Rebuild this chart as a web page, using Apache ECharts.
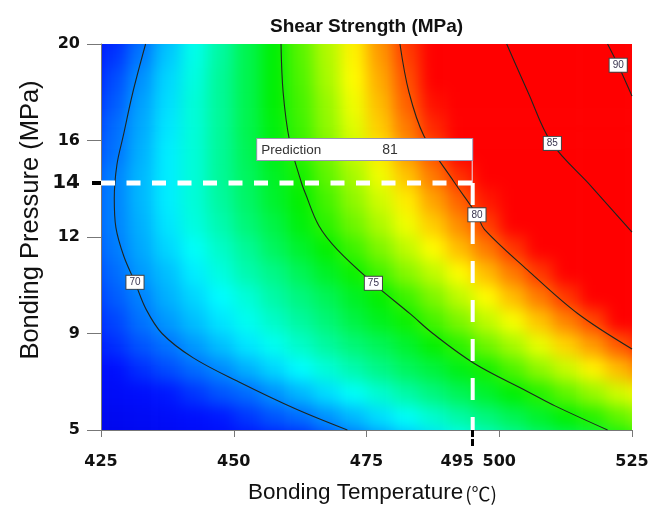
<!DOCTYPE html>
<html>
<head>
<meta charset="utf-8">
<title>Shear Strength (MPa)</title>
<script src="https://cdn.jsdelivr.net/npm/echarts@6/dist/echarts.min.js"></script>
<style>
  html, body { margin: 0; padding: 0; background: #fff; }
  #wrap { position: relative; width: 661px; height: 509px; }
  #clip { position: absolute; left: 101px; top: 44px; width: 531px; height: 386px; overflow: hidden; }
  /* the colour field runs one cell past each edge so the blur does not fade there */
  #heat { position: absolute; left: -26.5px; top: -24px; width: 584px; height: 434px; filter: blur(8px); }
  #main { position: absolute; left: 0; top: 0; width: 661px; height: 509px; }
</style>
</head>
<body>
<div id="wrap">
  <div id="clip"><div id="heat"></div></div>
  <div id="main"></div>
</div>
<script>
var tempTicks = [425, 450, 475, 500, 525];
var pressureTicks = [5, 9, 12, 16, 20]; // drawn at equal steps 0..4

var predTemp = 495;
var predPressure = 14;
var predStep = 2.56; // where 14 MPa sits on the stepped pressure axis
var predValue = 81;

// cell centres of the colour field (one extra cell beyond each edge)
var gridTemps = [422.5, 427.5, 432.5, 437.5, 442.5, 447.5, 452.5, 457.5, 462.5, 467.5, 472.5,
                 477.5, 482.5, 487.5, 492.5, 497.5, 502.5, 507.5, 512.5, 517.5, 522.5, 527.5];
var gridSteps = [-0.125, 0.125, 0.375, 0.625, 0.875, 1.125, 1.375, 1.625, 1.875,
                 2.125, 2.375, 2.625, 2.875, 3.125, 3.375, 3.625, 3.875, 4.125];

// shear strength, top row (20 MPa side) first
var shearGrid = [
  [67.8, 68.7, 69.6, 70.7, 71.8, 72.7, 73.8, 74.7, 75.9, 77.0, 78.1, 79.3, 80.4, 81.7, 83.0, 84.2, 85.5, 86.9, 88.2, 89.5, 90.7, 92.0],
  [68.1, 69.0, 69.9, 70.9, 71.9, 72.8, 73.8, 74.7, 75.8, 76.9, 78.0, 79.1, 80.2, 81.4, 82.6, 83.8, 85.0, 86.3, 87.6, 88.9, 90.2, 91.5],
  [68.4, 69.3, 70.2, 71.1, 72.0, 72.9, 73.8, 74.7, 75.7, 76.8, 77.9, 78.9, 80.0, 81.1, 82.2, 83.4, 84.5, 85.7, 87.0, 88.3, 89.7, 91.0],
  [68.7, 69.5, 70.4, 71.2, 72.1, 72.9, 73.8, 74.7, 75.6, 76.6, 77.7, 78.7, 79.8, 80.8, 81.9, 83.0, 84.0, 85.1, 86.2, 87.4, 88.6, 89.8],
  [68.9, 69.7, 70.5, 71.3, 72.1, 72.9, 73.8, 74.6, 75.5, 76.5, 77.5, 78.5, 79.5, 80.5, 81.5, 82.5, 83.6, 84.6, 85.7, 86.8, 87.9, 89.0],
  [69.1, 69.8, 70.6, 71.4, 72.1, 72.9, 73.7, 74.5, 75.3, 76.2, 77.2, 78.1, 79.1, 80.0, 81.0, 82.0, 83.0, 84.1, 85.1, 86.2, 87.3, 88.4],
  [69.3, 70.0, 70.7, 71.4, 72.1, 72.9, 73.6, 74.3, 75.0, 75.9, 76.8, 77.7, 78.6, 79.5, 80.4, 81.4, 82.4, 83.4, 84.3, 85.3, 86.4, 87.5],
  [69.4, 70.0, 70.7, 71.4, 72.1, 72.8, 73.5, 74.2, 74.8, 75.6, 76.5, 77.3, 78.1, 79.0, 79.8, 80.7, 81.7, 82.7, 83.6, 84.6, 85.6, 86.6],
  [69.4, 70.0, 70.6, 71.3, 72.0, 72.6, 73.3, 73.9, 74.6, 75.3, 76.1, 76.9, 77.7, 78.5, 79.3, 80.2, 81.1, 82.0, 83.0, 83.9, 84.8, 85.7],
  [69.3, 69.9, 70.5, 71.1, 71.7, 72.3, 72.9, 73.6, 74.2, 74.8, 75.5, 76.3, 77.1, 77.9, 78.7, 79.5, 80.3, 81.2, 82.1, 83.0, 83.9, 84.8],
  [69.1, 69.7, 70.3, 70.8, 71.4, 72.0, 72.6, 73.1, 73.7, 74.3, 74.9, 75.6, 76.4, 77.1, 77.9, 78.7, 79.5, 80.3, 81.2, 82.1, 82.9, 83.8],
  [68.9, 69.5, 70.0, 70.6, 71.1, 71.6, 72.1, 72.7, 73.2, 73.7, 74.3, 74.8, 75.5, 76.3, 77.1, 77.9, 78.7, 79.5, 80.3, 81.1, 82.0, 82.9],
  [68.7, 69.2, 69.8, 70.3, 70.8, 71.3, 71.8, 72.3, 72.8, 73.3, 73.9, 74.4, 74.9, 75.6, 76.3, 77.1, 77.8, 78.6, 79.4, 80.1, 81.0, 81.9],
  [68.4, 68.9, 69.4, 69.8, 70.3, 70.8, 71.3, 71.8, 72.3, 72.8, 73.3, 73.7, 74.2, 74.8, 75.3, 76.1, 76.8, 77.6, 78.4, 79.1, 79.9, 80.7],
  [67.9, 68.4, 68.9, 69.3, 69.7, 70.1, 70.6, 71.1, 71.6, 72.1, 72.6, 73.1, 73.6, 74.0, 74.5, 75.0, 75.7, 76.5, 77.2, 78.0, 78.7, 79.5],
  [67.4, 67.8, 68.2, 68.6, 69.0, 69.4, 69.7, 70.2, 70.7, 71.2, 71.7, 72.2, 72.7, 73.2, 73.7, 74.2, 74.7, 75.2, 75.9, 76.6, 77.3, 78.0],
  [66.7, 67.1, 67.5, 67.9, 68.3, 68.6, 69.0, 69.4, 69.7, 70.2, 70.7, 71.2, 71.7, 72.2, 72.7, 73.2, 73.7, 74.2, 74.7, 75.2, 75.9, 76.6],
  [66.0, 66.4, 66.8, 67.2, 67.6, 67.8, 68.3, 68.6, 68.7, 69.2, 69.7, 70.2, 70.7, 71.2, 71.7, 72.2, 72.7, 73.2, 73.5, 73.8, 74.5, 75.3]
];

// contour lines, [temperature, pressure step]
var contour70 = [[471.4, 0], [461.6, 0.22], [450.9, 0.5], [442.3, 0.75], [436.5, 1.0], [433.5, 1.25],
                 [431.4, 1.53], [429.3, 1.8], [427.8, 2.1], [427.5, 2.4], [428.0, 2.75], [429.2, 3.05],
                 [431.0, 3.5], [433.4, 4.0]];
var contour75 = [[520.4, 0], [510.5, 0.25], [505.3, 0.4], [495.3, 0.69], [487.5, 1.0], [483.3, 1.2],
                 [476.3, 1.52], [469.5, 1.87], [466.0, 2.12], [463.5, 2.45], [462.7, 2.57], [460.5, 3.0],
                 [459.3, 3.5], [458.9, 4.0]];
var contour80 = [[525, 0.84], [514.7, 1.21], [505.3, 1.66], [497.2, 2.08], [495.8, 2.23], [491.5, 2.57],
                 [485.8, 3.05], [483.0, 3.5], [481.3, 4.0]];
var contour85 = [[525, 2.05], [517.4, 2.52], [509.8, 2.98], [505.5, 3.49], [501.4, 4.0]];
var contour90 = [[525, 3.46], [522.4, 3.78], [520.4, 4.0]];
var contourLabels = [[431.4, 1.53, 70], [476.3, 1.52, 75], [495.8, 2.23, 80], [510.0, 2.97, 85], [522.4, 3.78, 90]];

// blue - cyan - green - yellow - red, one stop every 3.125 MPa from 56 to 93.5
var colorStops = ['#0000c0', '#0000c8', '#0000d4', '#0000e0', '#0010ff', '#00ffff', '#00f000',
                  '#ffff00', '#ff0000', '#ff0000', '#ff0000', '#ff0000', '#ff0000'];

var heatData = [];
(function () {
	var n = shearGrid.length;
	for (var r = 0; r < n; r++) {
		for (var c = 0; c < shearGrid[r].length; c++) {
			heatData.push([c, n - 1 - r, shearGrid[r][c]]);
		}
	}
})();

var heatChart = echarts.init(document.getElementById('heat'));
heatChart.setOption({
	animation: false,
	grid: {left: 0, right: 0, top: 0, bottom: 0},
	xAxis: {type: 'category', data: gridTemps, show: false},
	yAxis: {type: 'category', data: gridSteps, show: false},
	visualMap: {
		show: false, type: 'continuous', min: 56, max: 93.5, dimension: 2,
		inRange: {color: colorStops}
	},
	series: [{type: 'heatmap', data: heatData, silent: true, itemStyle: {borderWidth: 0}}]
});

function contourSeries(pts) {
	return {
		type: 'line', data: pts, smooth: 0.35, symbol: 'none', silent: true, z: 3,
		lineStyle: {color: '#1e2620', width: 1.1}
	};
}

var labelFont = 'DejaVu Sans';
var chart = echarts.init(document.getElementById('main'));
var option = {
	animation: false,
	title: {
		text: 'Shear Strength (MPa)',
		left: 265, top: 12,
		textStyle: {fontFamily: 'Liberation Sans', fontSize: 19, fontWeight: 'bold', color: '#111'}
	},
	grid: {left: 101, top: 44, width: 531, height: 386},
	xAxis: [{
		type: 'value', min: 425, max: 525, position: 'bottom',
		name: '{a|Bonding Temperature}{b|(℃)}',
		nameLocation: 'middle', nameGap: 51,
		nameTextStyle: {
			padding: [0, 0, 0, 12],
			rich: {
				a: {fontFamily: 'Liberation Sans', fontSize: 22.5, color: '#111'},
				b: {fontFamily: 'Noto Sans CJK SC', fontSize: 19, color: '#111', padding: [2, 0, 0, 2]}
			}
		},
		axisLine: {lineStyle: {color: '#777', width: 1}},
		axisTick: {customValues: tempTicks, length: 7, lineStyle: {color: '#777'}},
		axisLabel: {customValues: tempTicks, margin: 24, fontFamily: labelFont, fontWeight: 'bold', fontSize: 16, color: '#111'},
		splitLine: {show: false}
	}, {
		type: 'value', min: 425, max: 525, position: 'bottom',
		axisLine: {show: false},
		axisTick: {customValues: [predTemp], length: 16, lineStyle: {color: '#000', width: 3, type: [7, 2]}},
		axisLabel: {
			customValues: [predTemp], margin: 24,
			formatter: function (v) { return '{s|' + v + '}'; },
			rich: {s: {fontFamily: labelFont, fontWeight: 'bold', fontSize: 16, color: '#111', padding: [0, 31, 0, 0]}}
		},
		splitLine: {show: false}
	}],
	yAxis: [{
		type: 'value', min: 0, max: 4, position: 'left',
		name: 'Bonding Pressure (MPa)',
		nameLocation: 'middle', nameGap: 57,
		nameTextStyle: {fontFamily: 'Liberation Sans', fontSize: 25.5, color: '#111', padding: [0, 0, 0, 34]},
		axisLine: {lineStyle: {color: '#777', width: 1}},
		axisTick: {customValues: [0, 1, 2, 3, 4], length: 14, lineStyle: {color: '#777'}},
		axisLabel: {
			customValues: [0, 1, 2, 3, 4], margin: 21,
			fontFamily: labelFont, fontWeight: 'bold', fontSize: 16, color: '#111',
			formatter: function (v) { return String(pressureTicks[Math.round(v)]); }
		},
		splitLine: {show: false}
	}, {
		type: 'value', min: 0, max: 4, position: 'left',
		axisLine: {show: false},
		axisTick: {customValues: [predStep], length: 9, lineStyle: {color: '#000', width: 4}},
		axisLabel: {
			customValues: [predStep], margin: 21,
			fontFamily: labelFont, fontWeight: 'bold', fontSize: 20, color: '#111',
			formatter: function () { return String(predPressure); }
		},
		splitLine: {show: false}
	}],
	series: [
		contourSeries(contour70),
		contourSeries(contour75),
		contourSeries(contour80),
		contourSeries(contour85),
		contourSeries(contour90),
		// guide lines to the prediction point
		{
			type: 'line', data: [[425, predStep], [predTemp, predStep]], symbol: 'none', silent: true, z: 5,
			lineStyle: {color: '#fff', width: 5, type: [14, 11.5]}
		},
		{
			type: 'line', data: [[predTemp, predStep], [predTemp, 0]], symbol: 'none', silent: true, z: 5,
			lineStyle: {color: '#fff', width: 4, type: [22, 17]}
		},
		// contour level tags
		{
			type: 'scatter', data: contourLabels, symbolSize: 0, silent: true, z: 6,
			itemStyle: {opacity: 1},
			label: {
				show: true, position: 'inside', opacity: 1,
				formatter: function (p) { return String(p.value[2]); },
				fontFamily: 'Liberation Sans', fontSize: 10, color: '#3a3550',
				backgroundColor: '#fff', borderColor: '#444', borderWidth: 1, padding: [2, 3, 1, 3]
			}
		},
		// prediction box
		{
			type: 'scatter', data: [[predTemp, predStep, predValue]], silent: true, z: 7,
			symbol: 'rect', symbolSize: [1, 23], symbolOffset: [-0.5, -11.5],
			itemStyle: {color: '#e8e4f4', opacity: 1},
			label: {
				show: true, position: 'top', distance: 0, align: 'right', opacity: 1,
				formatter: function (p) { return '{a|Prediction}{b|' + p.value[2] + '}'; },
				backgroundColor: '#fff', borderColor: '#9a96b4', borderWidth: 1,
				padding: [4, 4, 3, 4],
				rich: {
					a: {width: 121, align: 'left', fontFamily: 'Liberation Sans', fontSize: 13.5, color: '#333'},
					b: {width: 86, align: 'left', fontFamily: 'Liberation Sans', fontSize: 14, color: '#333'}
				}
			}
		}
	]
};
chart.setOption(option);
</script>
</body>
</html>
